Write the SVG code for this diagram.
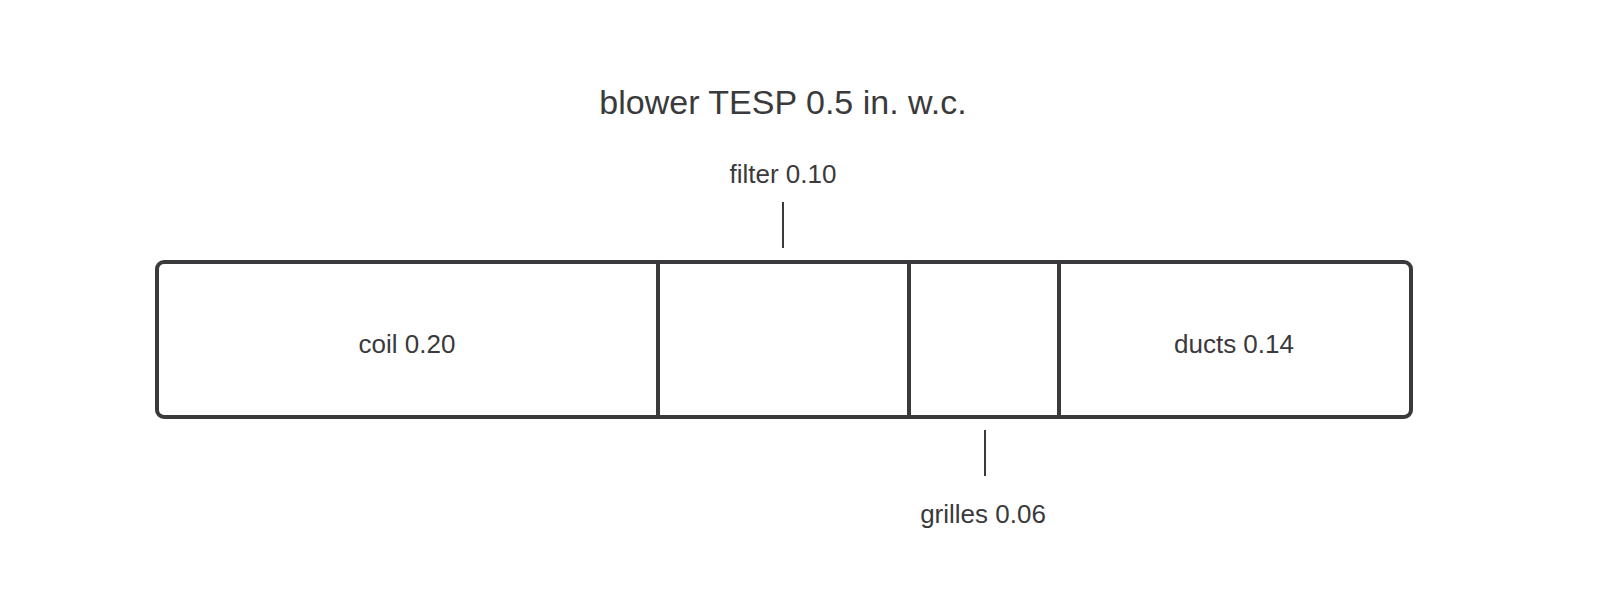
<svg xmlns="http://www.w3.org/2000/svg" width="1600" height="613" viewBox="0 0 1600 613">
<style>
text{font-family:"Liberation Sans",sans-serif;fill:#3a3a3d;text-anchor:middle;dominant-baseline:middle}
.s{stroke:#3a3a3d;stroke-width:4;fill:none;stroke-linecap:round}
.t{stroke:#3a3a3d;stroke-width:2;fill:none}
</style>
<rect width="1600" height="613" fill="#fff"/>
<text x="783" y="105" font-size="34">blower TESP 0.5 in. w.c.</text>
<g id="bar">
<rect class="s" x="157" y="262" width="1254" height="155" rx="7"/>
<line class="s" x1="658" y1="262" x2="658" y2="417"/>
<line class="s" x1="909" y1="262" x2="909" y2="417"/>
<line class="s" x1="1059" y1="262" x2="1059" y2="417"/>
</g>
<g id="coil"><text x="407" y="346" font-size="26">coil 0.20</text></g>
<g id="ducts"><text x="1234" y="346" font-size="26">ducts 0.14</text></g>
<g id="connectors">
<line class="t" x1="783" y1="202" x2="783" y2="248"/>
<line class="t" x1="985" y1="430" x2="985" y2="476"/>
</g>
<g id="filter"><text x="783" y="176" font-size="26">filter 0.10</text></g>
<g id="grilles"><text x="983" y="516" font-size="26">grilles 0.06</text></g>
</svg>
